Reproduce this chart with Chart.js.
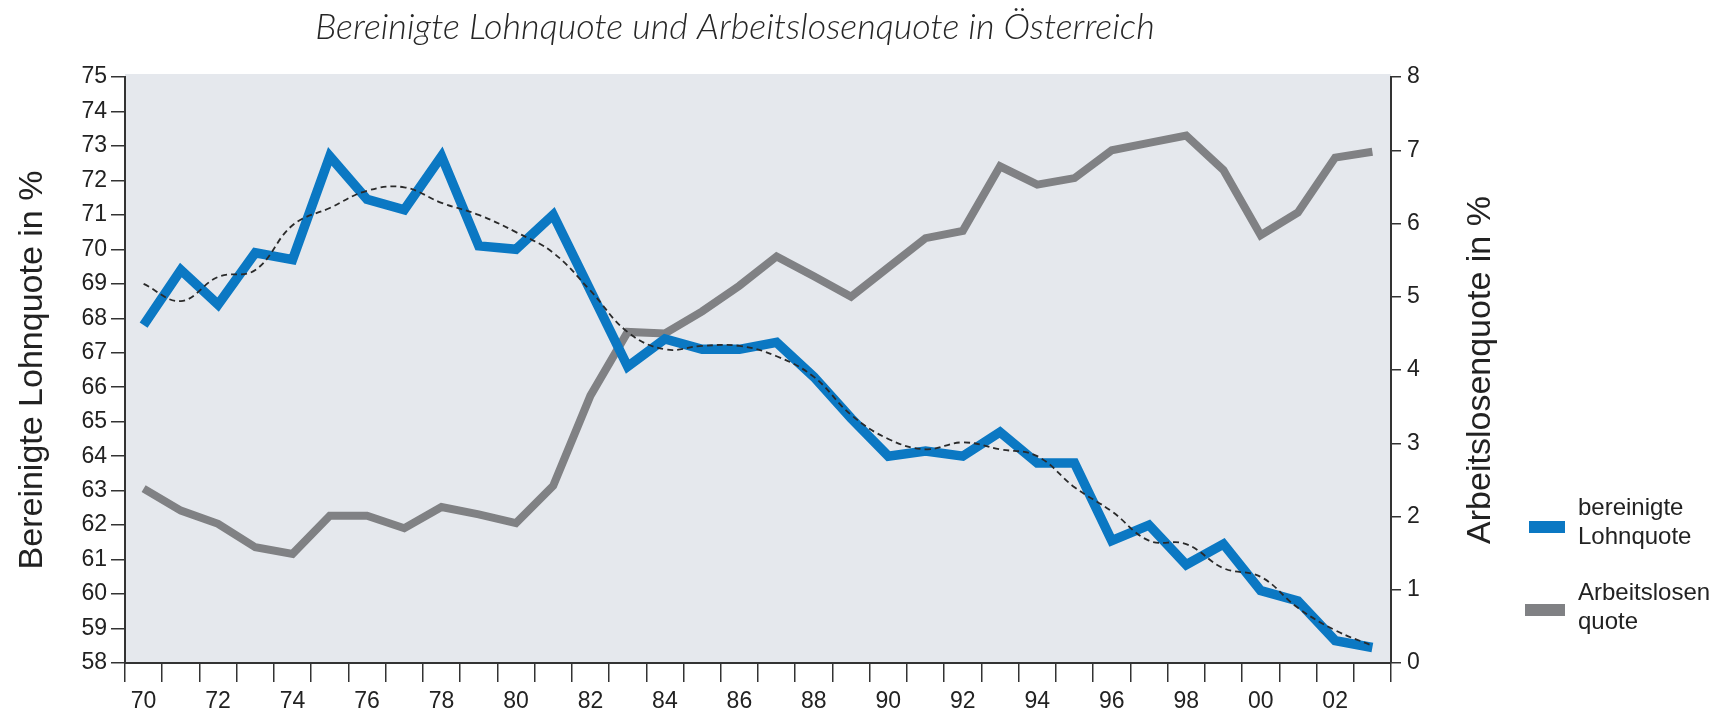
<!DOCTYPE html>
<html>
<head>
<meta charset="utf-8">
<script src="https://cdn.jsdelivr.net/npm/chart.js@4.4.1/dist/chart.umd.min.js"></script>
<style>
html,body{margin:0;padding:0;background:#ffffff;}
#wrap{width:1728px;height:714px;position:relative;}
</style>
</head>
<body>
<div id="wrap"><canvas id="c" width="1728" height="714"></canvas></div>
<script>
// Categories (years 1970-2003, shown as two-digit labels)
const years = ['70','71','72','73','74','75','76','77','78','79','80','81','82','83','84','85','86','87','88','89','90','91','92','93','94','95','96','97','98','99','00','01','02','03'];

// Bereinigte Lohnquote in % (left axis)
const lohnquote = [67.8,69.4,68.4,69.9,69.7,72.7,71.45,71.15,72.7,70.1,70.0,71.0,68.8,66.6,67.4,67.1,67.1,67.3,66.3,65.1,64.0,64.15,64.0,64.7,63.8,63.8,61.55,62.0,60.85,61.45,60.1,59.8,58.65,58.45];

// Smoothed trend of the Lohnquote (dashed, left axis)
const lohnquoteTrend = [69.0,68.5,69.2,69.4,70.7,71.2,71.7,71.8,71.35,71.0,70.5,69.9,68.8,67.6,67.1,67.2,67.2,66.9,66.3,65.2,64.5,64.2,64.4,64.2,64.0,63.1,62.4,61.55,61.45,60.75,60.5,59.6,58.95,58.5];

// Arbeitslosenquote in % (right axis)
const arbeitslosenquote = [2.38,2.08,1.9,1.58,1.49,2.01,2.01,1.84,2.13,2.03,1.91,2.42,3.65,4.52,4.5,4.8,5.15,5.55,5.28,5.0,5.4,5.8,5.9,6.78,6.53,6.62,7.0,7.1,7.2,6.73,5.84,6.15,6.9,6.98];

// Axis ranges / tick steps
const leftAxisRange = [58, 75];
const rightAxisRange = [0, 8];

// Texts
const chartTitle = 'Bereinigte Lohnquote und Arbeitslosenquote in Österreich';
const leftAxisTitle = 'Bereinigte Lohnquote in %';
const rightAxisTitle = 'Arbeitslosenquote in %';
const legendLabels = [['bereinigte','Lohnquote'],['Arbeitslosen','quote']];

const BLUE = '#0b78c3';
const GREY = '#808184';
const TEXT = '#222222';
const AXIS = '#333333';

const decor = {
  id: 'decor',
  beforeDraw(chart) {
    const {ctx, chartArea: a} = chart;
    ctx.save();
    ctx.fillStyle = '#e5e8ed';
    ctx.fillRect(a.left, a.top - 3, a.right - a.left, a.bottom - a.top + 3);
    ctx.restore();
  },
  afterDraw(chart) {
    const {ctx, chartArea: a} = chart;
    ctx.save();
    // Title
    ctx.fillStyle = '#262626';
    ctx.font = 'italic 300 36px Lato';
    ctx.textAlign = 'center';
    ctx.textBaseline = 'middle';
    ctx.fillText(chartTitle, 735, 27);
    // Right axis title (reads bottom to top)
    ctx.fillStyle = TEXT;
    ctx.font = '34px "Liberation Sans", Arial, sans-serif';
    ctx.translate(1481, (a.top + a.bottom) / 2);
    ctx.rotate(-Math.PI / 2);
    ctx.fillText(rightAxisTitle, 0, 0);
    ctx.restore();
    // Legend
    ctx.save();
    const items = [
      {color: BLUE, sx: 1529, sw: 36, sy: 521, lines: legendLabels[0], ty: 508},
      {color: GREY, sx: 1525, sw: 40, sy: 604, lines: legendLabels[1], ty: 593}
    ];
    ctx.font = '24px "Liberation Sans", Arial, sans-serif';
    ctx.textAlign = 'left';
    ctx.textBaseline = 'middle';
    items.forEach(it => {
      ctx.fillStyle = it.color;
      ctx.fillRect(it.sx, it.sy, it.sw, 12);
      ctx.fillStyle = TEXT;
      it.lines.forEach((t, i) => ctx.fillText(t, 1578, it.ty + i * 29));
    });
    ctx.restore();
  }
};

const tickFont = {family: '"Liberation Sans", Arial, sans-serif', size: 23};

new Chart(document.getElementById('c'), {
  type: 'line',
  data: {
    labels: years,
    datasets: [
      {
        label: 'Trend',
        data: lohnquoteTrend,
        yAxisID: 'y',
        borderColor: '#2a2a2a',
        borderWidth: 1.8,
        borderDash: [6, 4],
        pointRadius: 0,
        tension: 0.4,
        fill: false
      },
      {
        label: 'bereinigte Lohnquote',
        data: lohnquote,
        yAxisID: 'y',
        borderColor: BLUE,
        borderWidth: 9.5,
        borderJoinStyle: 'miter',
        borderCapStyle: 'butt',
        pointRadius: 0,
        tension: 0,
        fill: false
      },
      {
        label: 'Arbeitslosenquote',
        data: arbeitslosenquote,
        yAxisID: 'y2',
        borderColor: GREY,
        borderWidth: 8,
        borderJoinStyle: 'miter',
        borderCapStyle: 'butt',
        pointRadius: 0,
        tension: 0,
        fill: false
      }
    ]
  },
  options: {
    responsive: false,
    animation: false,
    devicePixelRatio: 1,
    layout: {padding: {top: 77, right: 297, bottom: 0, left: 0}},
    plugins: {legend: {display: false}, tooltip: {enabled: false}, title: {display: false}},
    scales: {
      x: {
        type: 'category',
        offset: true,
        grid: {offset: true, drawOnChartArea: false, drawTicks: true, tickLength: 19, color: AXIS, lineWidth: 1.5},
        border: {color: AXIS, width: 2},
        ticks: {
          autoSkip: false, maxRotation: 0, minRotation: 0, padding: 6,
          font: tickFont, color: TEXT,
          callback: (v, i) => (i % 2 === 0 ? years[i] : '')
        },
        afterFit: s => { s.height = 51; }
      },
      y: {
        position: 'left',
        min: leftAxisRange[0], max: leftAxisRange[1],
        grid: {drawOnChartArea: false, tickLength: 14, color: AXIS, lineWidth: 1.5},
        border: {color: AXIS, width: 2},
        ticks: {stepSize: 1, padding: 4, font: tickFont, color: TEXT},
        title: {
          display: true, text: leftAxisTitle, color: TEXT,
          font: {family: '"Liberation Sans", Arial, sans-serif', size: 34},
          padding: {top: 12, bottom: 0}
        },
        afterFit: s => { s.width = 125; }
      },
      y2: {
        position: 'right',
        min: rightAxisRange[0], max: rightAxisRange[1],
        grid: {drawOnChartArea: false, tickLength: 10, color: AXIS, lineWidth: 1.5},
        border: {color: AXIS, width: 2},
        ticks: {stepSize: 1, padding: 6, font: tickFont, color: TEXT},
        afterFit: s => { s.width = 40; }
      }
    }
  },
  plugins: [decor]
});
</script>
</body>
</html>
